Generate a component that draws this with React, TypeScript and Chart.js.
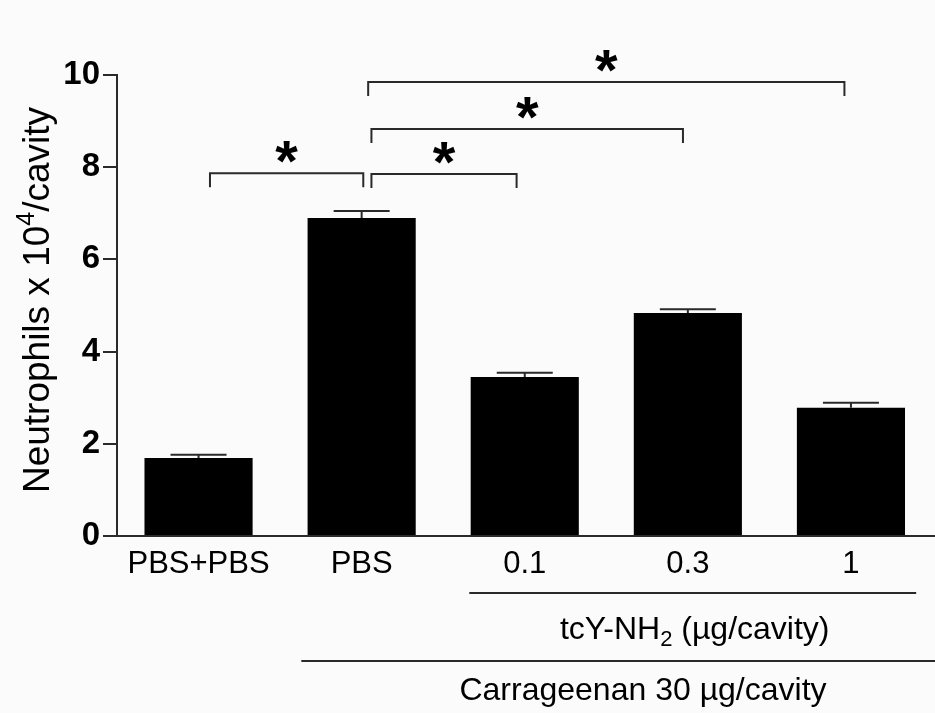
import React, { useEffect, useRef } from "react";
import { Chart, registerables } from "chart.js";

Chart.register(...registerables);

const FONT = "'Liberation Sans', Arial, sans-serif";

// ---- data ----
const categories = ["PBS+PBS", "PBS", "0.1", "0.3", "1"];
const means = [1.69, 6.9, 3.45, 4.84, 2.78];
const sems = [0.07, 0.15, 0.09, 0.08, 0.11];
const yTicks = [0, 2, 4, 6, 8, 10];

// significance brackets (x in category-index units, y in data units)
const bracketFrom = [0.07, 1.06, 1.06, 1.04];
const bracketTo = [1.01, 1.95, 2.97, 3.96];
const bracketY = [7.87, 7.85, 8.83, 9.85];
const bracketLabels = ["*", "*", "*", "*"];

const yTitleMain = "Neutrophils x 10";
const yTitleSup = "4";
const yTitleEnd = "/cavity";

const groupLabel1Main = "tcY-NH";
const groupLabel1Sub = "2";
const groupLabel1End = " (µg/cavity)";
const groupLabel2 = "Carrageenan 30 µg/cavity";
// group underline spans (category-index units)
const group1From = 1.66;
const group1To = 4.4;
const group2From = 0.63;

const annotPlugin = {
  id: "annot",
  beforeDraw(chart: any) {
    const ctx = chart.ctx;
    ctx.save();
    ctx.fillStyle = "#fbfbfb";
    ctx.fillRect(0, 0, chart.width, chart.height);
    ctx.restore();
  },
  afterDatasetsDraw(chart: any) {
    const ctx = chart.ctx;
    const xs = chart.scales.x;
    const ys = chart.scales.y;
    const area = chart.chartArea;
    ctx.save();
    ctx.strokeStyle = "#2a2a2a";
    ctx.lineWidth = 2;
    ctx.lineCap = "butt";

    // x axis line
    ctx.beginPath();
    ctx.moveTo(area.left - 1, area.bottom);
    ctx.lineTo(chart.width, area.bottom);
    ctx.stroke();

    // error bars
    means.forEach((m, i) => {
      const x = xs.getPixelForValue(i);
      const y0 = ys.getPixelForValue(m);
      const y1 = ys.getPixelForValue(m + sems[i]);
      ctx.beginPath();
      ctx.moveTo(x, y0);
      ctx.lineTo(x, y1);
      ctx.moveTo(x - 28, y1);
      ctx.lineTo(x + 28, y1);
      ctx.stroke();
    });

    // brackets
    ctx.fillStyle = "#000";
    ctx.font = `bold 58px ${FONT}`;
    ctx.textAlign = "center";
    ctx.textBaseline = "alphabetic";
    bracketFrom.forEach((f, i) => {
      const x0 = xs.getPixelForValue(f);
      const x1 = xs.getPixelForValue(bracketTo[i]);
      const y = ys.getPixelForValue(bracketY[i]);
      ctx.beginPath();
      ctx.moveTo(x0, y + 14);
      ctx.lineTo(x0, y);
      ctx.lineTo(x1, y);
      ctx.lineTo(x1, y + 14);
      ctx.stroke();
      const m = ctx.measureText(bracketLabels[i]);
      const center = y - 21;
      const base = center + (m.actualBoundingBoxAscent - m.actualBoundingBoxDescent) / 2;
      ctx.fillText(bracketLabels[i], (x0 + x1) / 2, base);
    });

    // y title (rotated, with superscript)
    ctx.save();
    const mainSize = 37;
    const supSize = 25;
    ctx.translate(49, 300);
    ctx.rotate(-Math.PI / 2);
    ctx.textAlign = "left";
    ctx.font = `${mainSize}px ${FONT}`;
    const w1 = ctx.measureText(yTitleMain).width;
    const w3 = ctx.measureText(yTitleEnd).width;
    ctx.font = `${supSize}px ${FONT}`;
    const w2 = ctx.measureText(yTitleSup).width;
    let tx = -(w1 + w2 + w3) / 2;
    ctx.font = `${mainSize}px ${FONT}`;
    ctx.fillText(yTitleMain, tx, 0);
    tx += w1;
    ctx.font = `${supSize}px ${FONT}`;
    ctx.fillText(yTitleSup, tx, -15);
    tx += w2;
    ctx.font = `${mainSize}px ${FONT}`;
    ctx.fillText(yTitleEnd, tx, 0);
    ctx.restore();

    // group line 1 and label
    const g1a = xs.getPixelForValue(group1From);
    const g1b = xs.getPixelForValue(group1To);
    ctx.beginPath();
    ctx.moveTo(g1a, area.bottom + 57);
    ctx.lineTo(g1b, area.bottom + 57);
    ctx.stroke();

    ctx.textAlign = "left";
    const gSize = 32;
    const gSub = 22;
    ctx.font = `${gSize}px ${FONT}`;
    const a1 = ctx.measureText(groupLabel1Main).width;
    const a3 = ctx.measureText(groupLabel1End).width;
    ctx.font = `${gSub}px ${FONT}`;
    const a2 = ctx.measureText(groupLabel1Sub).width;
    let gx = (g1a + g1b) / 2 - (a1 + a2 + a3) / 2 + 2;
    const gy = area.bottom + 103;
    ctx.font = `${gSize}px ${FONT}`;
    ctx.fillText(groupLabel1Main, gx, gy);
    gx += a1;
    ctx.font = `${gSub}px ${FONT}`;
    ctx.fillText(groupLabel1Sub, gx, gy + 7);
    gx += a2;
    ctx.font = `${gSize}px ${FONT}`;
    ctx.fillText(groupLabel1End, gx, gy);

    // group line 2 and label
    const g2a = xs.getPixelForValue(group2From);
    ctx.beginPath();
    ctx.moveTo(g2a, area.bottom + 125);
    ctx.lineTo(chart.width, area.bottom + 125);
    ctx.stroke();
    ctx.font = `${gSize}px ${FONT}`;
    ctx.textAlign = "center";
    ctx.fillText(groupLabel2, 643, area.bottom + 164);

    ctx.restore();
  },
};

export default function App() {
  const ref = useRef<HTMLCanvasElement>(null);
  useEffect(() => {
    const canvas = ref.current!;
    const chart = new Chart(canvas, {
      type: "bar",
      data: {
        labels: categories,
        datasets: [
          {
            data: means,
            backgroundColor: "#000",
            borderWidth: 0,
            categoryPercentage: 1,
            barPercentage: 0.663,
          },
        ],
      },
      options: {
        responsive: false,
        animation: false,
        layout: { padding: { top: 75, right: 2.5, left: 0, bottom: 0 } },
        plugins: {
          legend: { display: false },
          tooltip: { enabled: false },
          title: { display: false },
        },
        scales: {
          x: {
            grid: { display: false, drawTicks: false },
            border: { display: false },
            ticks: {
              color: "#000",
              font: { family: FONT, size: 31 },
              padding: 10,
              maxRotation: 0,
              autoSkip: false,
            },
            afterFit: (s: any) => {
              s.height = 177;
            },
          },
          y: {
            min: 0,
            max: 10,
            afterBuildTicks: (s: any) => {
              s.ticks = yTicks.map((v) => ({ value: v }));
            },
            ticks: {
              color: "#000",
              font: { family: FONT, size: 33, weight: "bold" },
              padding: 3,
            },
            grid: {
              drawOnChartArea: false,
              drawTicks: true,
              tickLength: 14,
              color: "#2a2a2a",
              lineWidth: 2,
            },
            border: { display: true, color: "#2a2a2a", width: 2 },
            afterFit: (s: any) => {
              s.width = 117;
            },
          },
        },
      } as any,
      plugins: [annotPlugin],
    });
    return () => chart.destroy();
  }, []);
  return (
    <div style={{ position: "fixed", left: 0, top: 0, width: 935, height: 713 }}>
      <canvas ref={ref} width={935} height={713} />
    </div>
  );
}
